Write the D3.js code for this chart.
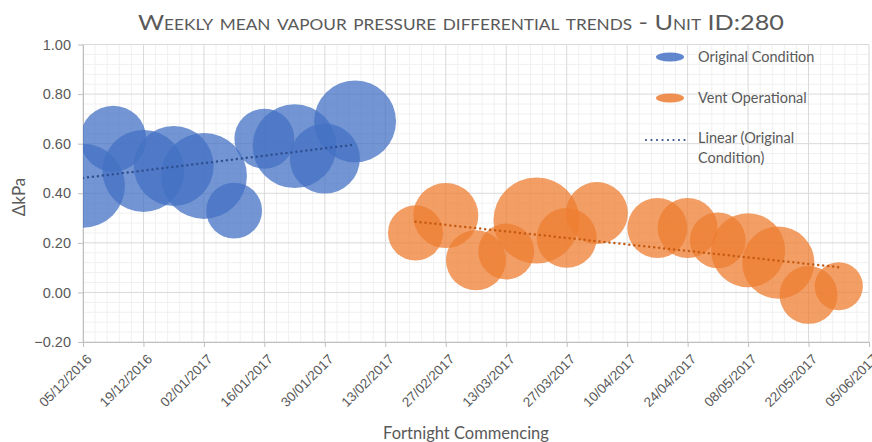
<!DOCTYPE html>
<html><head><meta charset="utf-8">
<script src="https://cdn.jsdelivr.net/npm/d3@7"></script>
<style>body{margin:0;background:#fff}svg{display:block}</style>
</head><body><div id="c"></div>
<script>
// ---- data ----
const origDates = ["05/12/2016","12/12/2016","19/12/2016","26/12/2016","02/01/2017","09/01/2017","16/01/2017","23/01/2017","30/01/2017","06/02/2017"];
const origValues = [0.43,0.62,0.49,0.51,0.47,0.33,0.62,0.59,0.54,0.69];
const origSizes = [17.6,10.9,16.8,16.0,18.5,7.8,9.0,17.6,12.3,16.8];
const ventDates = ["20/02/2017","27/02/2017","06/03/2017","13/03/2017","20/03/2017","27/03/2017","03/04/2017","17/04/2017","24/04/2017","01/05/2017","08/05/2017","15/05/2017","22/05/2017","29/05/2017"];
const ventValues = [0.24,0.31,0.13,0.165,0.29,0.22,0.32,0.26,0.26,0.21,0.17,0.12,-0.01,0.025];
const ventSizes = [7.6,10.6,9.0,7.8,18.5,9.0,9.6,9.0,9.0,7.8,13.7,13.0,8.4,5.8];
const xTickLabels = ["05/12/2016","19/12/2016","02/01/2017","16/01/2017","30/01/2017","13/02/2017","27/02/2017","13/03/2017","27/03/2017","10/04/2017","24/04/2017","08/05/2017","22/05/2017","05/06/2017"];
const yTicks = [-0.20,0.00,0.20,0.40,0.60,0.80,1.00];

const parse = d3.timeParse("%d/%m/%Y");
const W = 872, H = 442;
const m = {l:83, r:3, t:44.5, b:100};
const svg = d3.select("#c").append("svg").attr("width",W).attr("height",H)
  .style("font-family","Lato, 'Open Sans', sans-serif");

const x = d3.scaleTime().domain([parse("05/12/2016"), parse("05/06/2017")]).range([m.l, 869]);
const y = d3.scaleLinear().domain([-0.2, 1.0]).range([342, 44.5]);
const r = d3.scaleSqrt().domain([0, 18.5]).range([0, 43]);

// minor gridlines
const xMajor = xTickLabels.map(parse);
const xMinor = [];
for (let i=0;i<xMajor.length-1;i++){
  for (let k=1;k<5;k++) xMinor.push(new Date(+xMajor[i] + (xMajor[i+1]-xMajor[i])*k/5));
}
const yMinor = [];
for (let i=0;i<yTicks.length-1;i++) for (let k=1;k<5;k++) yMinor.push(yTicks[i] + 0.2*k/5);

const g = svg.append("g");
g.selectAll(".xm").data(xMinor).join("line").attr("x1",d=>x(d)).attr("x2",d=>x(d)).attr("y1",y(1)).attr("y2",y(-0.2)).attr("stroke","#f0f0f0");
g.selectAll(".ym").data(yMinor).join("line").attr("x1",m.l).attr("x2",869).attr("y1",d=>y(d)).attr("y2",d=>y(d)).attr("stroke","#f0f0f0");
g.selectAll(".xM").data(xMajor).join("line").attr("x1",d=>x(d)).attr("x2",d=>x(d)).attr("y1",y(1)).attr("y2",y(-0.2)).attr("stroke","#d9d9d9");
g.selectAll(".yM").data(yTicks).join("line").attr("x1",m.l).attr("x2",869).attr("y1",d=>y(d)).attr("y2",d=>y(d)).attr("stroke","#d9d9d9");

// axes
const xAxis = d3.axisBottom(x).tickValues(xMajor).tickFormat(d3.timeFormat("%d/%m/%Y")).tickSize(5).tickSizeOuter(0);
const xa = svg.append("g").attr("transform",`translate(0,${y(-0.2)})`).call(xAxis);
xa.select(".domain").attr("stroke","#bfbfbf");
xa.selectAll(".tick line").attr("stroke","#bfbfbf");
xa.selectAll(".tick text").attr("fill","#595959").style("font-size","13.5px")
  .attr("text-anchor","end").attr("dy",null).attr("y",0)
  .attr("transform","translate(9,18) rotate(-45)");

const yAxis = d3.axisLeft(y).tickValues(yTicks).tickFormat(d3.format(".2f")).tickSize(5).tickSizeOuter(0);
const ya = svg.append("g").attr("transform",`translate(${m.l},0)`).call(yAxis);
ya.select(".domain").attr("stroke","#bfbfbf");
ya.selectAll(".tick line").attr("stroke","#bfbfbf");
ya.selectAll(".tick text").attr("fill","#595959").style("font-size","14.5px").attr("x",-12);

// clip
svg.append("clipPath").attr("id","pc").append("rect").attr("x",m.l).attr("y",y(1)).attr("width",869-m.l).attr("height",y(-0.2)-y(1));
const plot = svg.append("g").attr("clip-path","url(#pc)");

const orig = origDates.map((d,i)=>({d:parse(d),v:origValues[i],s:origSizes[i]}));
const vent = ventDates.map((d,i)=>({d:parse(d),v:ventValues[i],s:ventSizes[i]}));

plot.selectAll(".ob").data(orig).join("circle").attr("cx",d=>x(d.d)).attr("cy",d=>y(d.v)).attr("r",d=>r(d.s))
  .attr("fill","#4472C4").attr("fill-opacity",0.75);
plot.selectAll(".vb").data(vent).join("circle").attr("cx",d=>x(d.d)).attr("cy",d=>y(d.v)).attr("r",d=>r(d.s))
  .attr("fill","#ED7D31").attr("fill-opacity",0.75);

function fit(arr){
  const xs = arr.map(p=>+p.d), ys = arr.map(p=>p.v);
  const mx = d3.mean(xs), my = d3.mean(ys);
  const b = d3.sum(xs.map((v,i)=>(v-mx)*(ys[i]-my)))/d3.sum(xs.map(v=>(v-mx)*(v-mx)));
  const a = my - b*mx;
  const x0 = xs[0], x1 = xs[xs.length-1];
  return [[x0, a+b*x0],[x1, a+b*x1]];
}
const line = d3.line().x(p=>x(new Date(p[0]))).y(p=>y(p[1]));
plot.append("path").attr("d",line(fit(orig))).attr("stroke","#2F4F8F").attr("stroke-width",2.5)
  .attr("stroke-dasharray","0 5").attr("stroke-linecap","round").attr("fill","none");
plot.append("path").attr("d",line(fit(vent))).attr("stroke","#C55A11").attr("stroke-width",2.5)
  .attr("stroke-dasharray","0 5").attr("stroke-linecap","round").attr("fill","none");

// title
svg.append("text").attr("x",461).attr("y",30).attr("text-anchor","middle")
  .style("font-variant","small-caps").style("font-size","22px").attr("fill","#595959")
  .attr("textLength",646).attr("lengthAdjust","spacingAndGlyphs")
  .text("Weekly mean vapour pressure differential trends - Unit ID:280");

// axis titles
svg.append("text").attr("x",466).attr("y",439).attr("text-anchor","middle").style("font-size","16.5px").attr("fill","#595959").text("Fortnight Commencing");
svg.append("text").attr("transform","translate(25,197) rotate(-90)").attr("text-anchor","middle").style("font-size","17px").attr("fill","#595959").text("ΔkPa");

// legend
const lg = svg.append("g");
const ls = "14.5px";
lg.append("ellipse").attr("cx",670).attr("cy",57).attr("rx",14).attr("ry",4.5).attr("fill","#4472C4").attr("fill-opacity",0.85);
lg.append("text").attr("x",698).attr("y",62).style("font-size",ls).attr("fill","#595959").text("Original Condition");
lg.append("ellipse").attr("cx",670).attr("cy",98).attr("rx",14).attr("ry",4.5).attr("fill","#ED7D31").attr("fill-opacity",0.85);
lg.append("text").attr("x",698).attr("y",103).style("font-size",ls).attr("fill","#595959").text("Vent Operational");
lg.append("line").attr("x1",646).attr("x2",686).attr("y1",140).attr("y2",140).attr("stroke","#2F4F8F").attr("stroke-width",2.2)
  .attr("stroke-dasharray","0 5.5").attr("stroke-linecap","round");
lg.append("text").attr("x",698).attr("y",143).style("font-size",ls).attr("fill","#595959").text("Linear (Original");
lg.append("text").attr("x",698).attr("y",163).style("font-size",ls).attr("fill","#595959").text("Condition)");
</script></body></html>
